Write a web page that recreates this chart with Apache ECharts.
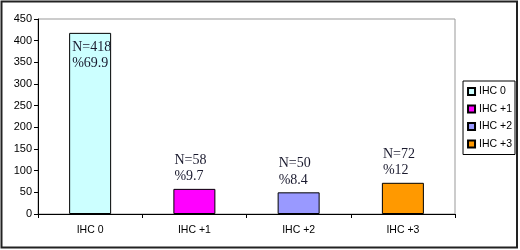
<!DOCTYPE html>
<html>
<head>
<meta charset="utf-8">
<script src="https://cdn.jsdelivr.net/npm/echarts@6/dist/echarts.min.js"></script>
<style>
html,body{margin:0;padding:0;background:#fff;}
#c{width:520px;height:250px;}
</style>
</head>
<body>
<div id="c"></div>
<script>
const categories = ['IHC 0', 'IHC +1', 'IHC +2', 'IHC +3'];
const counts = [418, 58, 50, 72];
const percents = ['69.9', '9.7', '8.4', '12'];
const yTicks = [0, 50, 100, 150, 200, 250, 300, 350, 400, 450];

const colors = ['#ccffff', '#ff00ff', '#9999ff', '#ff9900'];

const chart = echarts.init(document.getElementById('c'), null, {renderer: 'canvas'});

const series = categories.map((name, i) => {
  const inside = counts[i] > 200;
  return {
    name: name,
    type: 'bar',
    stack: 'all',
    barWidth: 42,
    data: categories.map((c, j) => (j === i ? counts[i] : '-')),
    itemStyle: {color: colors[i], borderColor: '#000', borderWidth: 1},
    label: {
      show: true,
      formatter: 'N=' + counts[i] + '\n%' + percents[i],
      position: inside ? [3, 6] : [1, -4],
      align: 'left',
      verticalAlign: inside ? 'top' : 'bottom',
      fontFamily: 'Liberation Serif',
      fontSize: 14,
      lineHeight: 16.5,
      color: '#1a1a2e'
    }
  };
});

chart.setOption({
  animation: false,
  backgroundColor: '#fff',
  grid: {left: 38, right: 65, top: 19, bottom: 36, show: true, borderColor: '#999', borderWidth: 1},
  xAxis: {
    type: 'category',
    data: categories,
    axisLine: {lineStyle: {color: '#000', width: 1}},
    axisTick: {show: true, length: 4, lineStyle: {color: '#000'}},
    axisLabel: {fontFamily: 'Liberation Sans', fontSize: 10.5, color: '#000', margin: 11}
  },
  yAxis: {
    type: 'value',
    min: yTicks[0],
    max: yTicks[yTicks.length - 1],
    interval: 50,
    axisLine: {show: true, lineStyle: {color: '#000', width: 1}},
    axisTick: {show: true, length: 4, lineStyle: {color: '#000'}},
    splitLine: {show: false},
    axisLabel: {fontFamily: 'Liberation Sans', fontSize: 11, color: '#000', margin: 6}
  },
  legend: {
    orient: 'vertical',
    right: 5,
    top: 81,
    padding: [5, 3, 5, 4],
    itemGap: 6.5,
    itemWidth: 7,
    itemHeight: 7,
    icon: 'rect',
    borderColor: '#000',
    borderWidth: 1,
    textStyle: {fontFamily: 'Liberation Sans', fontSize: 10.5, color: '#000', padding: [0, 0, 0, -1]},
    data: categories
  },
  graphic: [{
    type: 'rect',
    shape: {x: 1.5, y: 1.5, width: 515.5, height: 246},
    style: {fill: 'none', stroke: '#222', lineWidth: 2},
    silent: true
  }],
  series: series
});
</script>
</body>
</html>
